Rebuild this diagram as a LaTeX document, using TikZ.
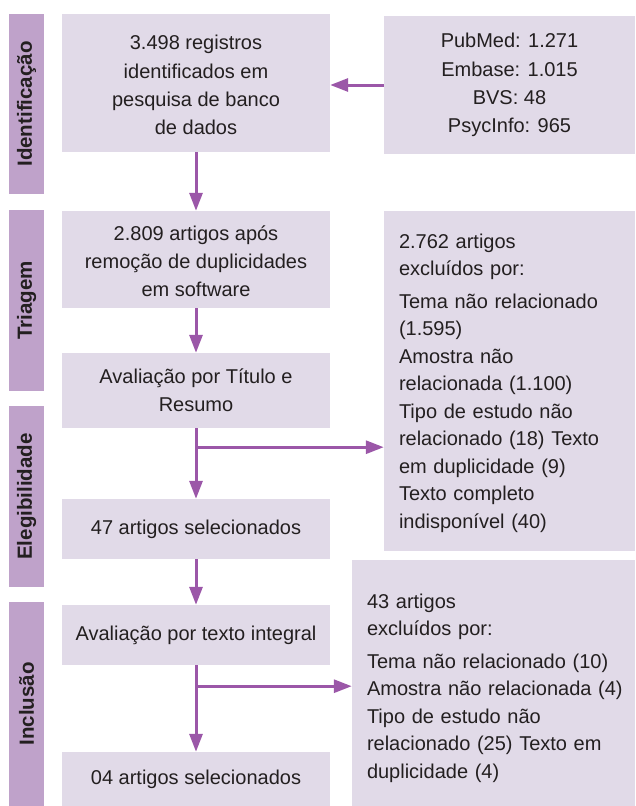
\documentclass[tikz,border=0pt]{standalone}
\usepackage{fontspec}
\setmainfont{Liberation Sans}
\usepackage{xcolor}
\usetikzlibrary{positioning}
\usetikzlibrary{arrows.meta,calc}
\usetikzlibrary{fit}
\definecolor{boxfill}{HTML}{E1DAE8}
\definecolor{barfill}{HTML}{BFA2CA}
\definecolor{flowcol}{HTML}{9B57A8}
\definecolor{textcol}{HTML}{231F20}

\begin{document}
\begin{tikzpicture}[x=1pt, y=-1pt,
  box/.style={fill=boxfill, inner sep=0pt},
  bar/.style={fill=barfill, inner sep=0pt},
  txt/.style={font=\fontsize{20}{28.2}\selectfont, text=textcol, align=center, inner sep=0pt},
  lefttxt/.style={txt, font=\fontsize{20}{27.5}\selectfont, align=left},
  phase/.style={font=\fontsize{20.5}{24}\selectfont\bfseries, text=textcol, rotate=90, inner sep=0pt},
  flow/.style={draw=flowcol, line width=3pt, -{Triangle[length=18pt,width=13pt]}},
  branch/.style={draw=flowcol, line width=3pt}
]
\useasboundingbox (0,0) rectangle (635,806);
%\filldraw[color=white] (0,0) rectangle (635,806);
% phases
\node[bar, fit={(9,14) (44,194)}, label={[phase]center:Identificação}] (pid) {};
\node[bar, fit={(9,210) (44,391)}, label={[phase]center:Triagem}] (ptri) {};
\node[bar, fit={(9,406) (44,587)}, label={[phase]center:Elegibilidade}] (pele) {};
\node[bar, fit={(9,602) (44,806)}, label={[phase]center:Inclusão}] (pinc) {};
% main column
\node[box, fit={(62,14) (330,152)}, label={[txt, yshift=-2pt]center:{3.498 registros\\identificados em\\pesquisa de banco\\de dados}}] (ident) {};
\node[box, fit={(62,211) (330,308)}, label={[txt, yshift=-2pt]center:{2.809 artigos após\\remoção de duplicidades\\em software}}] (dup) {};
\node[box, fit={(62,353) (330,428)}, label={[txt]center:{Avaliação por Título e\\Resumo}}] (tit) {};
\node[box, fit={(62,499) (330,559)}, label={[txt]center:{47 artigos selecionados}}] (sel47) {};
\node[box, fit={(62,605) (330,665)}, label={[txt]center:{Avaliação por texto integral}}] (integ) {};
\node[box, fit={(62,752) (330,806)}, label={[txt]center:{04 artigos selecionados}}] (sel04) {};
% right column
\node[box, fit={(384,16) (635,154)}, label={[txt]center:{PubMed: 1.271\\Embase: 1.015\\BVS: 48\\PsycInfo: 965}}] (src) {};
\node[box, fit={(384,211) (635,551)}, label={[lefttxt, text width=221pt, yshift=-2pt]center:{2.762 artigos\\excluídos por:\\[5pt]Tema não relacionado\\(1.595)\\Amostra não\\relacionada (1.100)\\Tipo de estudo não\\relacionado (18) Texto\\em duplicidade (9)\\Texto completo\\indisponível (40)}}] (exc1) {};
\node[box, fit={(352,560) (635,806)}, label={[lefttxt, text width=256pt, xshift=1.5pt, yshift=-5pt]center:{43 artigos\\excluídos por:\\[5pt]Tema não relacionado (10)\\Amostra não relacionada (4)\\Tipo de estudo não\\relacionado (25) Texto em\\duplicidade (4)}}] (exc2) {};
% arrows
\coordinate (br1) at ($(tit.south)+(0,19)$);
\coordinate (br2) at ($(integ.south)+(0,21)$);
\draw[flow] (src.west) -- (src.west -| ident.east);
\draw[flow] (ident.south) -- (dup.north);
\draw[flow] (dup.south) -- (tit.north);
\draw[flow] (tit.south) -- (sel47.north);
\draw[flow] (br1) -- (br1 -| exc1.west);
\draw[flow] (sel47.south) -- (integ.north);
\draw[flow] (integ.south) -- (sel04.north);
\draw[flow] (br2) -- (br2 -| exc2.west);
\end{tikzpicture}
\end{document}
